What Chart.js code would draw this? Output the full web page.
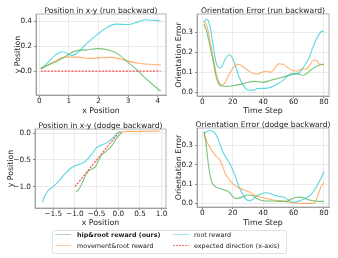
<!DOCTYPE html>
<html>
<head>
<meta charset="utf-8">
<script src="https://cdn.jsdelivr.net/npm/chart.js@4"></script>
<style>
html, body { margin: 0; padding: 0; background: #fff; }
#wrap { position: relative; width: 338px; height: 258px; overflow: hidden; font-family: "DejaVu Sans"; }
canvas { position: absolute; left: 0; top: 0; }
.legend { position: absolute; left: 52px; top: 230px; width: 235px; height: 24px; border: 1px solid #e2e2e2; border-radius: 2px; box-sizing: border-box; }
.hd { position: absolute; width: 16px; height: 0; border-top: 1.2px solid; }
.hdot { position: absolute; width: 16px; height: 1.2px; background: repeating-linear-gradient(to right, rgb(250,110,110) 0 2px, transparent 2px 3px); }
.lb { position: absolute; font-size: 6.4px; line-height: 8px; color: #222; white-space: nowrap; }
</style>
</head>
<body>
<div id="wrap">
  <canvas id="c1" width="338" height="258"></canvas>
  <canvas id="c2" width="338" height="258"></canvas>
  <canvas id="c3" width="338" height="258"></canvas>
  <canvas id="c4" width="338" height="258"></canvas>
  <div class="legend"></div>
  <div class="hd" style="left:55px;top:234px;border-color:rgba(90,180,90,0.5)"></div>
  <div class="lb" style="left:77px;top:230.8px;font-weight:bold">hip&amp;root reward (ours)</div>
  <div class="hd" style="left:55px;top:245px;border-color:rgba(255,150,60,0.5)"></div>
  <div class="lb" style="left:77px;top:241.5px">movement&amp;root reward</div>
  <div class="hd" style="left:173px;top:234px;border-color:rgba(60,205,220,0.5)"></div>
  <div class="lb" style="left:194px;top:230.8px">root reward</div>
  <div class="hdot" style="left:173px;top:245px"></div>
  <div class="lb" style="left:194px;top:241.5px">expected direction (x-axis)</div>
</div>
<script>
// ---- run backward, position in x-y
const runGreenX = [0.05, 0.3, 0.6, 0.9, 1.2, 1.6, 2.0, 2.4, 2.7, 3.0, 3.3, 3.6, 3.9, 4.1];
const runGreenY = [0.02, 0.05, 0.08, 0.12, 0.16, 0.17, 0.18, 0.165, 0.13, 0.07, 0.01, -0.06, -0.12, -0.16];
const runOrangeX = [0.05, 0.3, 0.6, 0.9, 1.3, 1.7, 2.0, 2.4, 2.7, 3.0, 3.3, 3.7, 4.1];
const runOrangeY = [0.02, 0.05, 0.09, 0.112, 0.112, 0.102, 0.106, 0.11, 0.1, 0.08, 0.065, 0.055, 0.05];
const runCyanX = [0.05, 0.3, 0.55, 0.8, 0.95, 1.1, 1.3, 1.6, 2.0, 2.3, 2.6, 3.0, 3.3, 3.6, 3.9, 4.1];
const runCyanY = [0.02, 0.07, 0.13, 0.155, 0.14, 0.125, 0.15, 0.22, 0.3, 0.35, 0.375, 0.372, 0.39, 0.41, 0.405, 0.4];
const runExpX = [0.05, 4.1];
const runExpY = [0, 0];

// ---- run backward, orientation error
const runCyanT = [1, 3, 5, 7, 9, 11, 13, 15, 18, 21, 24, 27, 30, 33, 37, 41, 45, 49, 53, 57, 61, 64, 67, 70, 73, 76, 79, 80];
const runCyanErr = [0.35, 0.365, 0.33, 0.24, 0.15, 0.122, 0.13, 0.165, 0.187, 0.15, 0.08, 0.035, 0.012, 0.01, 0.02, 0.02, 0.025, 0.04, 0.06, 0.085, 0.09, 0.1, 0.13, 0.17, 0.23, 0.28, 0.305, 0.3];
const runOrangeT = [1, 3, 5, 7, 9, 11, 13, 15, 17, 20, 22, 24, 27, 30, 33, 36, 39, 42, 45, 48, 50, 53, 56, 59, 62, 65, 68, 71, 73, 75, 77, 80];
const runOrangeErr = [0.35, 0.33, 0.26, 0.18, 0.1, 0.05, 0.035, 0.05, 0.08, 0.12, 0.135, 0.14, 0.125, 0.11, 0.095, 0.09, 0.1, 0.105, 0.1, 0.125, 0.142, 0.14, 0.125, 0.11, 0.105, 0.115, 0.115, 0.14, 0.16, 0.16, 0.14, 0.14];
const runGreenT = [1, 3, 5, 7, 9, 11, 13, 16, 20, 25, 30, 35, 40, 45, 50, 55, 60, 63, 66, 68, 71, 74, 77, 80];
const runGreenErr = [0.34, 0.3, 0.23, 0.16, 0.08, 0.04, 0.032, 0.03, 0.033, 0.04, 0.05, 0.055, 0.05, 0.06, 0.07, 0.08, 0.095, 0.092, 0.085, 0.09, 0.11, 0.125, 0.135, 0.14];

// ---- dodge backward, position in x-y
const dodgeCyanX = [-1.75, -1.7, -1.62, -1.5, -1.38, -1.25, -1.12, -1.0, -0.88, -0.75, -0.62, -0.5, -0.38, -0.25, -0.12, 0.0, 0.05];
const dodgeCyanY = [-1.3, -1.18, -1.08, -1.0, -0.9, -0.78, -0.67, -0.61, -0.58, -0.52, -0.4, -0.27, -0.22, -0.17, -0.08, 0.02, 0.03];
const dodgeGreenX = [-0.97, -0.9, -0.83, -0.76, -0.68, -0.6, -0.52, -0.45, -0.38, -0.3, -0.2, -0.12, -0.05, 0.03, 0.08];
const dodgeGreenY = [-1.1, -1.04, -0.93, -0.8, -0.7, -0.67, -0.62, -0.5, -0.4, -0.35, -0.28, -0.2, -0.1, -0.03, 0.02];
const dodgeOrangeX = [0.0, 0.1, 0.2, 0.3, 0.4, 0.5, 0.6, 0.7, 0.8, 0.9, 0.95];
const dodgeOrangeY = [0.0, 0.03, 0.035, 0.035, 0.03, 0.035, 0.035, 0.035, 0.04, 0.04, 0.04];
const dodgeExpX = [-1.0, 0.0];
const dodgeExpY = [-1.0, 0.0];

// ---- dodge backward, orientation error
const dodgeCyanT = [1, 3, 5, 7, 9, 11, 13, 15, 17, 19, 21, 23, 25, 27, 29, 31, 33, 36, 39, 42, 45, 48, 51, 54, 57, 60, 63, 66, 69, 72, 75, 78, 80];
const dodgeCyanErr = [0.36, 0.372, 0.377, 0.372, 0.355, 0.32, 0.275, 0.245, 0.22, 0.19, 0.155, 0.11, 0.07, 0.04, 0.02, 0.012, 0.02, 0.04, 0.05, 0.055, 0.05, 0.04, 0.035, 0.03, 0.015, 0.005, 0.01, 0.02, 0.03, 0.05, 0.085, 0.13, 0.165];
const dodgeOrangeT = [1, 3, 5, 7, 9, 11, 13, 15, 17, 19, 22, 25, 28, 31, 34, 37, 41, 45, 49, 53, 57, 61, 65, 69, 72, 74, 76, 78, 80];
const dodgeOrangeErr = [0.37, 0.32, 0.29, 0.265, 0.245, 0.23, 0.2, 0.155, 0.13, 0.11, 0.09, 0.077, 0.068, 0.058, 0.045, 0.035, 0.028, 0.02, 0.015, 0.012, 0.006, 0.002, 0.0, 0.0, 0.0, 0.005, 0.04, 0.085, 0.105];
const dodgeGreenT = [1, 2, 3, 4, 5, 6, 8, 10, 12, 14, 16, 18, 20, 22, 24, 27, 30, 33, 36, 39, 43, 47, 51, 55, 58, 61, 64, 67, 70, 74, 77, 80];
const dodgeGreenErr = [0.37, 0.33, 0.27, 0.2, 0.15, 0.115, 0.09, 0.08, 0.075, 0.07, 0.065, 0.055, 0.035, 0.025, 0.027, 0.035, 0.043, 0.04, 0.025, 0.015, 0.012, 0.012, 0.01, 0.01, 0.02, 0.03, 0.032, 0.028, 0.018, 0.012, 0.01, 0.01];

// ---- ticks
const posRunXTicks = [0, 1, 2, 3, 4];
const posRunYTicks = [0.0, 0.2, 0.4];
const posDodgeXTicks = [-1.5, -1.0, -0.5, 0.0, 0.5, 1.0];
const posDodgeYTicks = [-1.0, -0.5, 0.0];
const stepTicks = [0, 20, 40, 60, 80];
const errTicks = [0.0, 0.1, 0.2, 0.3];

const GREEN = 'rgba(70,175,70,0.72)';
const ORANGE = 'rgba(255,145,55,0.72)';
const CYAN = 'rgba(50,205,220,0.8)';
const RED = 'rgb(250,90,90)';
const TXT = '#222';

function zip(xs, ys) {
  return xs.map((x, i) => ({ x: x, y: ys[i] }));
}

function line(xs, ys, color, dashed) {
  return {
    data: zip(xs, ys),
    borderColor: color,
    borderWidth: dashed ? 1.2 : 1.1,
    borderDash: dashed ? [2.2, 1.2] : [],
    borderCapStyle: 'butt',
    pointRadius: 0,
    showLine: true,
    fill: false,
    cubicInterpolationMode: 'monotone'
  };
}

const int0 = v => String(v);
const dec1 = v => v.toFixed(1).replace('-', '\u2212');

// frame and title drawn like matplotlib axes
const panelDeco = {
  id: 'panelDeco',
  afterDraw(chart, args, opts) {
    const a = chart.chartArea;
    const ctx = chart.ctx;
    ctx.save();
    ctx.strokeStyle = '#a0a0a0';
    ctx.lineWidth = 0.8;
    ctx.strokeRect(a.left, a.top, a.right - a.left, a.bottom - a.top);
    ctx.fillStyle = TXT;
    ctx.font = '7.6px "DejaVu Sans"';
    ctx.textAlign = 'center';
    ctx.textBaseline = 'alphabetic';
    ctx.fillText(opts.text, (a.left + a.right) / 2, a.top - 1.2);
    ctx.restore();
  }
};

function panel(id, p) {
  const tickFont = { family: 'DejaVu Sans', size: 7.3 };
  const labFont = { family: 'DejaVu Sans', size: 7.8 };
  new Chart(document.getElementById(id), {
    type: 'scatter',
    data: { datasets: p.datasets },
    plugins: [panelDeco],
    options: {
      responsive: false,
      animation: false,
      devicePixelRatio: 1,
      layout: { padding: { left: p.area[0] - p.yW, top: p.area[1], right: 338 - p.area[2], bottom: 258 - p.area[3] - p.xH } },
      plugins: { legend: { display: false }, tooltip: { enabled: false }, panelDeco: { text: p.title } },
      scales: {
        x: {
          type: 'linear', min: p.xr[0], max: p.xr[1],
          afterBuildTicks: s => { s.ticks = p.xTicks.map(v => ({ value: v })); },
          afterFit: s => { s.height = p.xH; },
          ticks: { font: tickFont, color: TXT, padding: 0, autoSkip: false, maxRotation: 0, callback: p.xFmt },
          grid: { color: '#e6e6e6', lineWidth: 0.8, tickLength: 2, tickColor: '#666' },
          border: { color: '#a0a0a0' },
          title: { display: true, text: p.xLabel, font: labFont, color: TXT, padding: 0 }
        },
        y: {
          type: 'linear', min: p.yr[0], max: p.yr[1],
          afterBuildTicks: s => { s.ticks = p.yTicks.map(v => ({ value: v })); },
          afterFit: s => { s.width = p.yW; },
          ticks: { font: tickFont, color: TXT, padding: 2, autoSkip: false, callback: p.yFmt },
          grid: { color: '#e6e6e6', lineWidth: 0.8, tickLength: 2, tickColor: '#666' },
          border: { color: '#a0a0a0' },
          title: { display: true, text: p.yLabel, font: labFont, color: TXT, padding: 0 }
        }
      }
    }
  });
}

panel('c1', {
  title: 'Position in x-y (run backward)', xLabel: 'x Position', yLabel: 'y Position',
  area: [36, 14, 166, 95], yW: 23, xH: 21,
  xr: [-0.11, 4.28], yr: [-0.19, 0.456],
  xTicks: posRunXTicks, yTicks: posRunYTicks, xFmt: int0, yFmt: dec1,
  datasets: [
    line(runExpX, runExpY, RED, true),
    line(runGreenX, runGreenY, GREEN),
    line(runOrangeX, runOrangeY, ORANGE),
    line(runCyanX, runCyanY, CYAN)
  ]
});

panel('c2', {
  title: 'Orientation Error (run backward)', xLabel: 'Time Step', yLabel: 'Orientation Error',
  area: [197, 14, 329, 96], yW: 23, xH: 20,
  xr: [-3.5, 83.3], yr: [-0.018, 0.39],
  xTicks: stepTicks, yTicks: errTicks, xFmt: int0, yFmt: dec1,
  datasets: [
    line(runGreenT, runGreenErr, GREEN),
    line(runOrangeT, runOrangeErr, ORANGE),
    line(runCyanT, runCyanErr, CYAN)
  ]
});

panel('c3', {
  title: 'Position in x-y (dodge backward)', xLabel: 'x Position', yLabel: 'y Position',
  area: [35, 129, 166, 208], yW: 29, xH: 20,
  xr: [-1.92, 1.1], yr: [-1.4, 0.08],
  xTicks: posDodgeXTicks, yTicks: posDodgeYTicks, xFmt: dec1, yFmt: dec1,
  datasets: [
    line(dodgeExpX, dodgeExpY, RED, true),
    line(dodgeGreenX, dodgeGreenY, GREEN),
    line(dodgeOrangeX, dodgeOrangeY, ORANGE),
    line(dodgeCyanX, dodgeCyanY, CYAN)
  ]
});

panel('c4', {
  title: 'Orientation Error (dodge backward)', xLabel: 'Time Step', yLabel: 'Orientation Error',
  area: [197, 128, 329, 207], yW: 23, xH: 21,
  xr: [-3.5, 83.3], yr: [-0.019, 0.39],
  xTicks: stepTicks, yTicks: errTicks, xFmt: int0, yFmt: dec1,
  datasets: [
    line(dodgeGreenT, dodgeGreenErr, GREEN),
    line(dodgeOrangeT, dodgeOrangeErr, ORANGE),
    line(dodgeCyanT, dodgeCyanErr, CYAN)
  ]
});
</script>
</body>
</html>
